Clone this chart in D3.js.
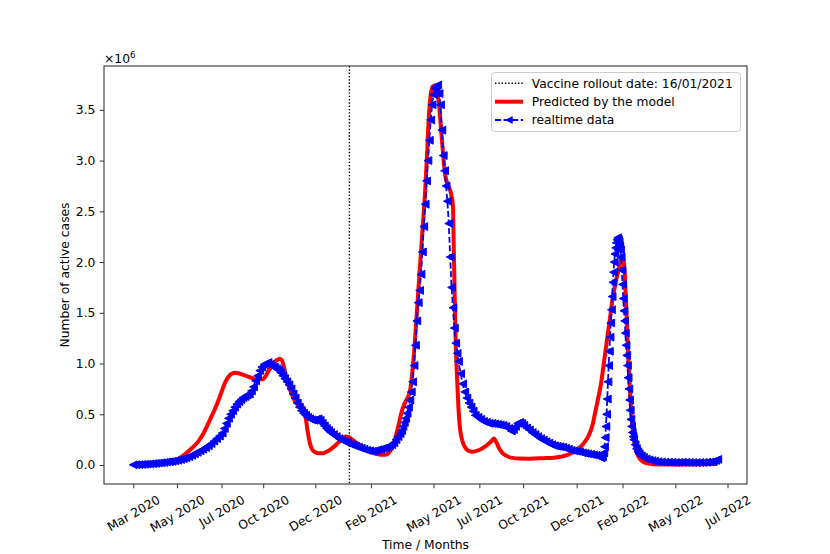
<!DOCTYPE html>
<html>
<head>
<meta charset="utf-8">
<script src="https://cdn.jsdelivr.net/npm/d3@7"></script>
<style>
  body { margin: 0; background: #fff; }
  svg { font-family: "DejaVu Sans", sans-serif; }
</style>
</head>
<body>
<svg id="chart" width="830" height="554"></svg>
<script>
// x values are days since the start of the series (early March 2020), cases in millions

const modelDays = [0, 20, 36, 50, 60, 68, 75, 85, 94, 101, 108, 114, 120, 126, 132, 137, 142, 147, 151, 160,
  170, 180, 186, 190, 194, 199, 204, 208, 211, 214, 217, 220, 223, 228, 233, 237, 242, 245, 248, 251,
  254, 257, 262, 267, 272, 278, 285, 292, 299, 305, 310, 316, 322, 330, 337, 343, 350, 356, 362, 366,
  370, 374, 378, 382, 386, 390, 393, 396, 399, 402, 405, 408, 412, 416, 420, 423, 425, 428, 431, 434,
  437, 440, 443, 446, 449, 453, 457, 460, 461, 462, 463, 464, 466, 468, 470, 473, 477, 482, 488, 494,
  500, 506, 512, 516, 519, 522, 526, 531, 537, 545, 555, 570, 590, 605, 615, 625, 635, 643, 650, 656,
  661, 665, 669, 673, 677, 681, 685, 690, 695, 700, 703, 705, 707, 709, 711, 713, 715, 717, 719, 721,
  724, 728, 733, 738, 748, 760, 780, 800, 820, 841];
const modelCases = [0, .008, .02, .035, .05, .075, .11, .17, .235, .31, .41, .5, .59, .7, .81, .87, .9, .908, .905, .885,
  .86, .845, .845, .87, .92, .97, 1.02, 1.04, 1.047, 1.03, .96, .87, .79, .7, .625, .595, .58, .56, .47, .33,
  .22, .16, .125, .115, .115, .13, .16, .2, .25, .28, .275, .245, .215, .18, .15, .125, .11, .1, .1, .11,
  .14, .2, .29, .4, .52, .6, .64, .68, .76, .95, 1.2, 1.5, 1.9, 2.3, 2.7, 3.1, 3.4, 3.65, 3.73, 3.74,
  3.71, 3.55, 3.3, 3.05, 2.85, 2.76, 2.68, 2.55, 2.2, 1.85, 1.5, 1.2, .85, .55, .37, .25, .18, .14, .13, .14,
  .155, .18, .215, .24, .26, .23, .17, .12, .09, .07, .063, .062, .067, .072, .082, .1, .135, .175, .23, .3,
  .4, .53, .66, .8, 1.0, 1.2, 1.4, 1.65, 1.83, 1.97, 2.05, 2.03, 1.9, 1.6, 1.25, .95, .7, .48, .32, .22,
  .13, .07, .035, .018, .008, .004, .004, .005, .007, .012];

const realDays = [0, 4, 8, 12, 16, 20, 24, 28, 32, 36, 40, 44, 48, 52, 56, 60, 64, 68, 72, 76,
  80, 84, 88, 92, 96, 100, 104, 108, 112, 116, 120, 124, 128, 131, 134, 137, 140, 143, 146, 149,
  152, 155, 158, 161, 164, 167, 170, 173, 176, 179, 182, 185, 188, 191, 194, 197, 200, 203, 206, 209,
  212, 215, 218, 221, 224, 227, 230, 233, 236, 239, 242, 245, 248, 251, 254, 257, 260, 263, 266, 269,
  272, 275, 278, 281, 284, 288, 292, 296, 300, 304, 308, 312, 316, 320, 324, 328, 332, 336, 340, 344,
  348, 352, 356, 360, 363, 366, 369, 372, 375, 378, 381, 384, 386, 388, 390, 392, 394, 396, 398, 400,
  402, 404, 406, 408, 410, 412, 414, 416, 418, 420, 422, 424, 426, 428, 430, 432, 434, 436, 438, 440,
  442, 444, 446, 448, 450, 452, 454, 456, 458, 460, 462, 464, 466, 468, 471, 474, 477, 480, 483, 486,
  489, 492, 496, 500, 504, 508, 512, 516, 520, 524, 528, 532, 536, 540, 544, 547, 550, 553, 556, 559,
  562, 566, 570, 574, 578, 582, 586, 590, 594, 598, 602, 606, 610, 614, 618, 622, 626, 630, 634, 638,
  642, 646, 650, 654, 658, 662, 666, 670, 673, 675, 677, 678, 679, 680, 681, 682, 683, 684, 685, 686,
  687, 688, 689, 690, 691, 692, 693, 694, 695, 696, 697, 698, 699, 700, 701, 702, 703, 704, 705, 706,
  707, 708, 709, 710, 711, 712, 713, 714, 715, 716, 717, 718, 719, 720, 722, 724, 726, 728, 731, 734,
  738, 742, 746, 750, 755, 760, 765, 770, 775, 780, 785, 790, 795, 800, 805, 810, 815, 820, 825, 830,
  834, 838, 841];
const realCases = [.002, .003, .004, .005, .007, .009, .011, .013, .016, .019, .022, .025, .029, .032, .036, .041, .047, .054, .062, .071,
  .082, .095, .11, .125, .14, .155, .172, .19, .21, .235, .26, .285, .315, .36, .41, .46, .5, .535, .57, .6,
  .625, .645, .665, .675, .69, .7, .73, .77, .83, .88, .93, .965, .99, 1.0, 1.01, .99, .975, .965, .95, .935,
  .91, .88, .85, .82, .79, .75, .7, .66, .61, .57, .535, .51, .49, .47, .455, .445, .44, .45, .455, .44,
  .41, .385, .36, .34, .32, .3, .28, .26, .245, .23, .22, .205, .195, .185, .175, .165, .155, .145, .14, .135,
  .14, .15, .155, .165, .17, .175, .19, .2, .22, .25, .28, .31, .34, .38, .42, .46, .51, .57, .64, .72,
  .82, .98, 1.18, 1.42, 1.6, 1.72, 1.88, 2.1, 2.35, 2.57, 2.8, 3.0, 3.2, 3.4, 3.55, 3.65, 3.71, 3.73, 3.745, 3.66,
  3.55, 3.3, 3.05, 2.9, 2.75, 2.6, 2.38, 2.05, 1.75, 1.55, 1.35, 1.2, 1.1, 1.02, .9, .8, .72, .66, .61, .57,
  .53, .49, .47, .45, .43, .42, .41, .41, .405, .4, .395, .39, .38, .36, .335, .35, .38, .41, .42, .41,
  .39, .365, .345, .32, .3, .28, .26, .245, .23, .215, .2, .19, .185, .18, .175, .165, .155, .145, .14, .135,
  .13, .12, .115, .11, .105, .1, .095, .085, .07, .08, .12, .18, .27, .38, .5, .65, .82, .98, 1.12, 1.26,
  1.4, 1.53, 1.66, 1.8, 1.9, 2.0, 2.08, 2.14, 2.19, 2.22, 2.24, 2.22, 2.2, 2.16, 2.12, 2.05, 1.92, 1.78, 1.64, 1.52,
  1.42, 1.3, 1.18, 1.08, .98, .86, .75, .64, .54, .45, .38, .32, .28, .25, .2, .16, .13, .11, .09, .075,
  .06, .05, .043, .038, .033, .03, .028, .027, .026, .025, .026, .027, .026, .025, .024, .024, .025, .025, .027, .03,
  .035, .045, .055];

const tickDays = [0, 63, 127, 187, 262, 342, 432, 498, 561, 638, 704, 780, 855];
const tickLabels = ["Mar 2020", "May 2020", "Jul 2020", "Oct 2020", "Dec 2020", "Feb 2021", "May 2021",
  "Jul 2021", "Oct 2021", "Dec 2021", "Feb 2022", "May 2022", "Jul 2022"];
const yTicks = [0, 0.5, 1.0, 1.5, 2.0, 2.5, 3.0, 3.5];
const vaccineDay = 311;
const legendLabels = ["Vaccine rollout date: 16/01/2021", "Predicted by the model", "realtime data"];

const fs = 12.3;
const plot = { left: 104, right: 747, top: 66, bottom: 484 };
const svg = d3.select("#chart");

// matplotlib-like 5% margins around the data
const allDays = modelDays.concat(realDays);
const allCases = modelCases.concat(realCases);
const [d0, d1] = d3.extent(allDays);
const [c0, c1] = d3.extent(allCases);
const dPad = (d1 - d0) * 0.05, cPad = (c1 - c0) * 0.05;

const x = d3.scaleLinear().domain([d0 - dPad, d1 + dPad]).range([plot.left, plot.right]);
const y = d3.scaleLinear().domain([c0 - cPad, c1 + cPad]).range([plot.bottom, plot.top]);

const model = modelDays.map((d, i) => [d, modelCases[i]]);
const real = realDays.map((d, i) => [d, realCases[i]]);

// vaccine line
svg.append("line")
  .attr("x1", x(vaccineDay)).attr("x2", x(vaccineDay))
  .attr("y1", plot.top).attr("y2", plot.bottom)
  .attr("stroke", "#000").attr("stroke-width", 1.4)
  .attr("stroke-dasharray", "1.4,1.9");

// model curve
svg.append("path")
  .datum(model)
  .attr("fill", "none")
  .attr("stroke", "#ff0000")
  .attr("stroke-width", 4)
  .attr("stroke-linejoin", "round")
  .attr("d", d3.line().x(d => x(d[0])).y(d => y(d[1])).curve(d3.curveMonotoneX));

// realtime data: dashed line + left triangles
svg.append("path")
  .datum(real)
  .attr("fill", "none")
  .attr("stroke", "#0000ff")
  .attr("stroke-width", 1.8)
  .attr("stroke-dasharray", "6,2.6")
  .attr("d", d3.line().x(d => x(d[0])).y(d => y(d[1])));

const tri = "M-3.9,0L3.9,-3.9L3.9,3.9Z";
svg.append("g").selectAll("path")
  .data(real)
  .enter().append("path")
  .attr("d", tri)
  .attr("transform", d => `translate(${x(d[0])},${y(d[1])})`)
  .attr("fill", "#0000ff")
  .attr("stroke", "#0000ff")
  .attr("stroke-width", 1);

// frame
svg.append("rect")
  .attr("x", plot.left).attr("y", plot.top)
  .attr("width", plot.right - plot.left).attr("height", plot.bottom - plot.top)
  .attr("fill", "none").attr("stroke", "#222").attr("stroke-width", 1);

// axes
const xAxis = svg.append("g")
  .attr("transform", `translate(0,${plot.bottom})`)
  .call(d3.axisBottom(x).tickValues(tickDays).tickFormat((d, i) => tickLabels[i])
    .tickSize(4.3).tickPadding(4.3).tickSizeOuter(0));
xAxis.attr("font-family", "DejaVu Sans").attr("font-size", fs);
xAxis.select(".domain").remove();
xAxis.selectAll("line").attr("stroke", "#333");
xAxis.selectAll("text").attr("fill", "#000").each(function () {
  const w = this.getComputedTextLength();
  const cy = 8.6 + (w * 0.5 + fs * 1.17 * 0.866) / 2;
  d3.select(this)
    .attr("y", null).attr("dy", null)
    .attr("text-anchor", "middle")
    .attr("dominant-baseline", "central")
    .attr("transform", `translate(0,${cy}) rotate(-30)`);
});

const yAxis = svg.append("g")
  .attr("transform", `translate(${plot.left},0)`)
  .call(d3.axisLeft(y).tickValues(yTicks).tickFormat(d3.format(".1f"))
    .tickSize(4.3).tickPadding(4.3).tickSizeOuter(0));
yAxis.attr("font-family", "DejaVu Sans").attr("font-size", fs);
yAxis.select(".domain").remove();
yAxis.selectAll("line").attr("stroke", "#333");
yAxis.selectAll("text").attr("fill", "#000");

// offset text
const off = svg.append("text")
  .attr("x", plot.left).attr("y", plot.top - 3)
  .attr("font-size", fs);
off.append("tspan").text("×10");
off.append("tspan").attr("dy", -5).attr("font-size", fs * 0.7).text("6");

// axis labels
svg.append("text")
  .attr("x", (plot.left + plot.right) / 2).attr("y", 548.5)
  .attr("text-anchor", "middle").attr("font-size", fs)
  .text("Time / Months");
svg.append("text")
  .attr("transform", `translate(68.5,${(plot.top + plot.bottom) / 2}) rotate(-90)`)
  .attr("text-anchor", "middle").attr("font-size", fs)
  .text("Number of active cases");

// legend
const lg = svg.append("g");
lg.append("rect")
  .attr("x", 491.5).attr("y", 72.5).attr("width", 249).attr("height", 59).attr("rx", 3)
  .attr("fill", "#fff").attr("fill-opacity", 0.8)
  .attr("stroke", "#cccccc").attr("stroke-width", 1);
const rowY = [83.3, 101.7, 120];
lg.append("line")
  .attr("x1", 495).attr("x2", 523).attr("y1", rowY[0]).attr("y2", rowY[0])
  .attr("stroke", "#000").attr("stroke-width", 1.4).attr("stroke-dasharray", "1.4,1.9");
lg.append("line")
  .attr("x1", 495).attr("x2", 523).attr("y1", rowY[1]).attr("y2", rowY[1])
  .attr("stroke", "#ff0000").attr("stroke-width", 4);
lg.append("line")
  .attr("x1", 495).attr("x2", 523).attr("y1", rowY[2]).attr("y2", rowY[2])
  .attr("stroke", "#0000ff").attr("stroke-width", 1.8).attr("stroke-dasharray", "6,2.6");
lg.append("path")
  .attr("d", "M-3.3,0L3.3,-3.3L3.3,3.3Z").attr("transform", `translate(509,${rowY[2]})`)
  .attr("fill", "#0000ff").attr("stroke", "#0000ff").attr("stroke-width", 0.8);
lg.selectAll("text.lab")
  .data(legendLabels)
  .enter().append("text")
  .attr("class", "lab")
  .attr("x", 531.7)
  .attr("y", (d, i) => rowY[i] + 4.4)
  .attr("font-size", fs)
  .text(d => d);
</script>
</body>
</html>
